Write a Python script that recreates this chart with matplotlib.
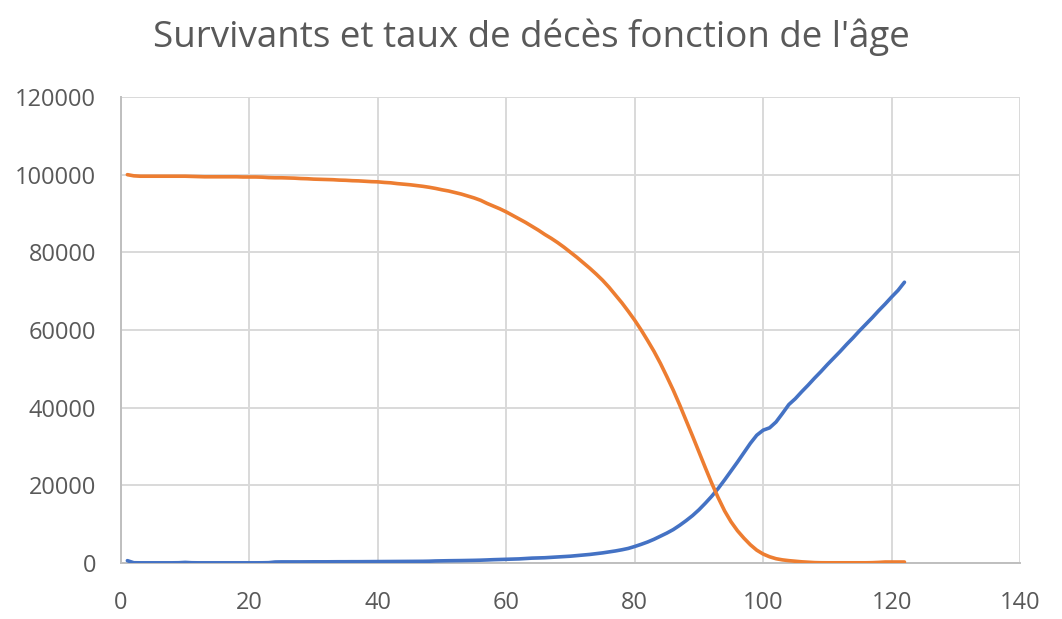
import matplotlib
matplotlib.use("Agg")
import matplotlib.pyplot as plt
import numpy as np

# === Data ===
ages = list(range(1, 123))

survivants = [
    100000, 99700, 99600, 99600, 99600, 99600, 99600, 99600, 99600, 99600,   # 1-10
    99550, 99500, 99450, 99450, 99450, 99450, 99450, 99450, 99400, 99400,    # 11-20
    99400, 99350, 99250, 99200, 99200, 99150, 99100, 99000, 98950, 98850,    # 21-30
    98800, 98750, 98700, 98600, 98550, 98450, 98400, 98300, 98200, 98150,    # 31-40
    98000, 97900, 97700, 97550, 97400, 97200, 97000, 96750, 96450, 96100,    # 41-50
    95800, 95400, 95000, 94500, 94000, 93400, 92600, 91900, 91200, 90400,    # 51-60
    89500, 88600, 87700, 86700, 85700, 84600, 83600, 82500, 81300, 80000,    # 61-70
    78700, 77300, 75900, 74400, 72800, 71000, 69000, 67000, 64800, 62500,    # 71-80
    60000, 57300, 54500, 51400, 48000, 44500, 40700, 36700, 32700, 28600,    # 81-90
    24500, 20500, 16800, 13400, 10600, 8300, 6400, 4700, 3300, 2300,         # 91-100
    1600, 1100, 800, 600, 450, 300, 200, 100, 60, 50,                         # 101-110
    50, 50, 50, 50, 50, 50, 80, 150, 250, 250, 250, 250,                      # 111-122
]

taux_deces = [
    600, 60, 40, 40, 40, 40, 40, 40, 60, 150,                                 # 1-10
    60, 40, 40, 40, 40, 40, 40, 40, 40, 40,                                   # 11-20
    40, 50, 80, 250, 280, 280, 280, 280, 290, 300,                            # 21-30
    300, 300, 310, 320, 320, 330, 330, 340, 350, 360,                         # 31-40
    370, 380, 390, 400, 410, 420, 430, 460, 520, 550,                         # 41-50
    580, 600, 620, 650, 680, 720, 780, 850, 900, 950,                         # 51-60
    1000, 1050, 1150, 1250, 1300, 1350, 1450, 1550, 1650, 1750,               # 61-70
    1900, 2050, 2200, 2400, 2600, 2850, 3100, 3400, 3750, 4250,               # 71-80
    4800, 5400, 6100, 6900, 7700, 8600, 9700, 10900, 12200, 13700,            # 81-90
    15400, 17200, 19200, 21400, 23700, 26000, 28400, 30800, 32900, 34200,     # 91-100
    34800, 36300, 38500, 40800, 42300, 44100, 45800, 47600, 49300, 51100,     # 101-110
    52800, 54500, 56300, 58000, 59800, 61500, 63200, 65000, 66700, 68500,     # 111-120
    70200, 72300,                                                             # 121-122
]

x_ticks = [0, 20, 40, 60, 80, 100, 120, 140]
y_ticks = [0, 20000, 40000, 60000, 80000, 100000, 120000]

# === Style ===
plt.rcParams["font.family"] = ["Open Sans", "DejaVu Sans"]
text_grey = "#595959"
grid_grey = "#D9D9D9"
axis_grey = "#BFBFBF"

fig = plt.figure(figsize=(10.62, 6.19), dpi=100)
ax = fig.add_axes([0.1139, 0.0905, 0.8466, 0.7528])

ax.plot(ages, taux_deces, color="#4472C4", linewidth=2.6, solid_capstyle="round", zorder=3)
ax.plot(ages, survivants, color="#ED7D31", linewidth=2.6, solid_capstyle="round", zorder=3)

ax.set_xlim(0, 140)
ax.set_ylim(0, 120000)
ax.set_xticks(x_ticks)
ax.set_yticks(y_ticks)
ax.set_xticklabels([str(v) for v in x_ticks])
ax.set_yticklabels([str(v) for v in y_ticks])

ax.grid(True, color=grid_grey, linewidth=1.4, zorder=0)
ax.set_axisbelow(True)
for side in ["top", "right"]:
    ax.spines[side].set_visible(False)
ax.spines["left"].set_color(axis_grey)
ax.spines["bottom"].set_color(axis_grey)
ax.spines["left"].set_linewidth(1.4)
ax.spines["bottom"].set_linewidth(1.4)

ax.tick_params(axis="both", length=0, labelsize=17, colors=text_grey)
ax.tick_params(axis="x", pad=20)
ax.tick_params(axis="y", pad=18)

fig.text(0.5, 0.94, "Survivants et taux de décès fonction de l'âge",
         ha="center", va="center", fontsize=26.5, color=text_grey)

plt.savefig("out.png", dpi=100)
plt.close()
